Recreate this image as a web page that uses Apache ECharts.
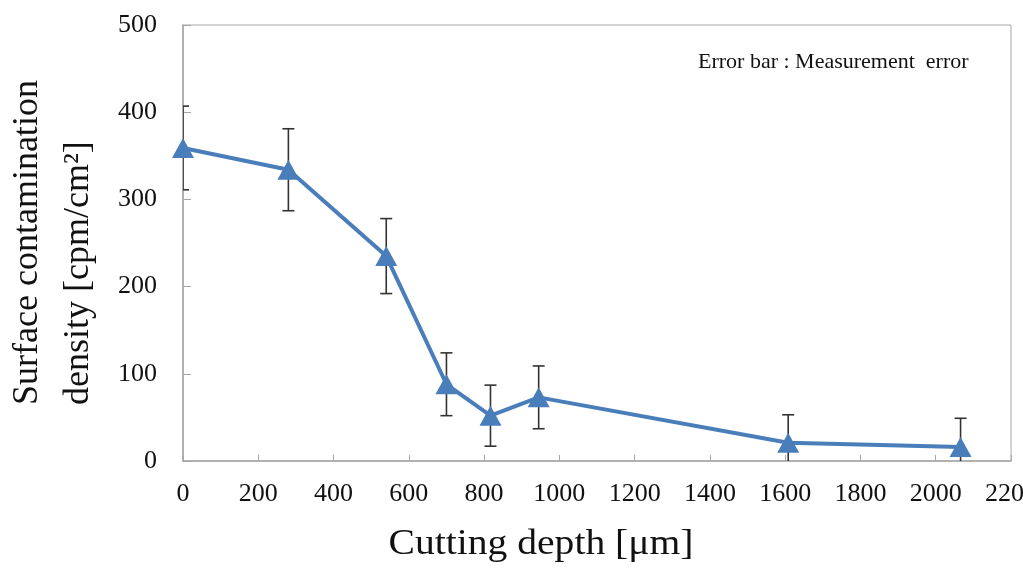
<!DOCTYPE html>
<html>
<head>
<meta charset="utf-8">
<script src="https://cdn.jsdelivr.net/npm/echarts@6/dist/echarts.min.js"></script>
<style>
  html, body { margin: 0; padding: 0; background: #fff; }
  #chart { width: 1023px; height: 569px; }
</style>
</head>
<body>
<div id="chart"></div>
<script>
// cutting depth [um] and surface contamination density [cpm/cm2]
const depth = [0, 280, 540, 700, 817, 945, 1608, 2066];
const density = [359, 334, 235, 88, 52, 73, 21, 16];
// measurement error (+/-)
const errors = [48, 47, 43, 36, 35, 36, 32, 33];

const serif = '"Liberation Serif", "DejaVu Serif", serif';
const axisGray = '#a6a6a6';
const lineBlue = '#4a7ebb';

const chart = echarts.init(document.getElementById('chart'));

const errData = depth.map((d, i) => [d, density[i] - errors[i], density[i] + errors[i]]);

chart.setOption({
  backgroundColor: '#fff',
  animation: false,
  grid: {
    left: 183, right: 12, top: 25, bottom: 108,
    containLabel: false,
    outerBoundsMode: 'none',
    show: true, borderColor: axisGray, borderWidth: 1
  },
  xAxis: {
    type: 'value',
    min: 0, max: 2200, interval: 200,
    axisLine: { show: true, lineStyle: { color: axisGray, width: 1.5 } },
    axisTick: { show: true, inside: true, length: 6, lineStyle: { color: axisGray } },
    axisLabel: {
      color: '#111', fontFamily: serif, fontSize: 26, margin: 20,
      showMaxLabel: true, hideOverlap: false,
      formatter: v => String(v)
    },
    splitLine: { show: false }
  },
  yAxis: {
    type: 'value',
    min: 0, max: 500, interval: 100,
    axisLine: { show: true, lineStyle: { color: axisGray, width: 1.5 } },
    axisTick: { show: true, inside: true, length: 8, lineStyle: { color: axisGray } },
    axisLabel: { color: '#111', fontFamily: serif, fontSize: 26, margin: 26 },
    splitLine: { show: false }
  },
  graphic: [
    {
      type: 'text', x: 28, y: 405, rotation: Math.PI / 2,
      style: { text: 'Surface contamination', font: '36px ' + serif, fill: '#111', align: 'left', verticalAlign: 'middle' }
    },
    {
      type: 'text', x: 79, y: 405, rotation: Math.PI / 2,
      style: { text: 'density [cpm/cm²]', font: '36px ' + serif, fill: '#111', align: 'left', verticalAlign: 'middle' }
    },
    {
      type: 'text', x: 541, y: 545, scaleX: 1.1,
      style: { text: 'Cutting depth [μm]', font: '36px ' + serif, fill: '#111', align: 'center', verticalAlign: 'middle' }
    },
    {
      type: 'text', x: 698, y: 62,
      style: { text: 'Error bar : Measurement  error', font: '22px ' + serif, fill: '#111', align: 'left', verticalAlign: 'middle' }
    }
  ],
  series: [
    {
      type: 'custom',
      clip: true,
      z: 1,
      data: errData,
      renderItem: (params, api) => {
        const x = api.value(0);
        const lo = api.coord([x, api.value(1)]);
        const hi = api.coord([x, api.value(2)]);
        const cap = 6;
        const st = { stroke: '#333', lineWidth: 1.6 };
        return {
          type: 'group',
          children: [
            { type: 'line', shape: { x1: lo[0], y1: lo[1], x2: hi[0], y2: hi[1] }, style: st },
            { type: 'line', shape: { x1: hi[0] - cap, y1: hi[1], x2: hi[0] + cap, y2: hi[1] }, style: st },
            { type: 'line', shape: { x1: lo[0] - cap, y1: lo[1], x2: lo[0] + cap, y2: lo[1] }, style: st }
          ]
        };
      }
    },
    {
      type: 'line',
      z: 2,
      data: depth.map((d, i) => [d, density[i]]),
      lineStyle: { color: lineBlue, width: 4 },
      itemStyle: { color: lineBlue },
      symbol: 'triangle',
      symbolSize: [22, 20],
      showSymbol: true
    }
  ]
});
</script>
</body>
</html>
